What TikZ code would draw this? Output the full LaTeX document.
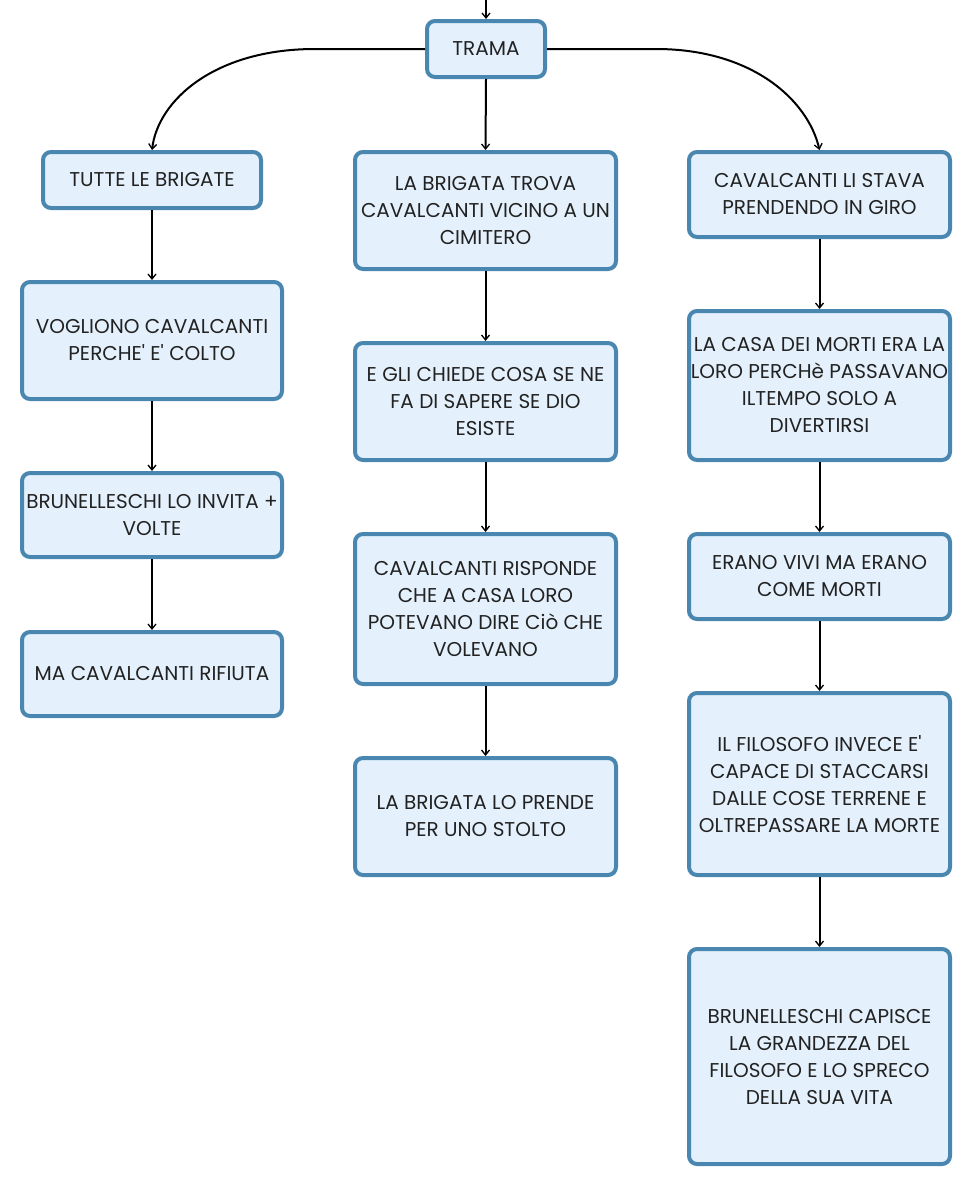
\documentclass[tikz,border=0pt]{standalone}
\usepackage{fontspec}
\setmainfont{Poppins}[Ligatures=TeXOff]
\usetikzlibrary{arrows.meta}
\definecolor{boxline}{HTML}{4A87B0}
\definecolor{boxfill}{HTML}{E4F1FC}
\definecolor{txt}{HTML}{222222}
\tikzset{
  card/.style={draw=boxline, fill=boxfill, line width=4pt, rounded corners=8pt,
    inner sep=0pt, align=center, text=txt, font=\fontsize{20}{27}\selectfont},
  link/.style={draw=black, line width=2pt, -{Straight Barb[length=5pt,width=8pt,line width=1.3pt]}}
}
\newcommand{\bx}[6]{\node[card, minimum width=#4pt-4pt, minimum height=#5pt-4pt] (#1) at (#2pt,-#3pt) {#6};}
\begin{document}
\begin{tikzpicture}[x=1pt,y=1pt]
\useasboundingbox (0,0) rectangle (972,-1186);
\bx{trama}{486}{49}{122}{60}{TRAMA}
\bx{tutte}{152}{180}{222}{60}{TUTTE LE BRIGATE}
\bx{vogliono}{152}{340.5}{264}{121}{VOGLIONO CAVALCANTI\\PERCHE' E' COLTO}
\bx{brun}{152}{515}{264}{88}{BRUNELLESCHI LO INVITA +\\VOLTE}
\bx{ma}{152}{674}{264}{88}{MA CAVALCANTI RIFIUTA}
\bx{trova}{485.5}{210.5}{265}{121}{LA BRIGATA TROVA\\CAVALCANTI VICINO A UN\\CIMITERO}
\bx{chiede}{485.5}{401.5}{265}{121}{E GLI CHIEDE COSA SE NE\\FA DI SAPERE SE DIO\\ESISTE}
\bx{risponde}{485.5}{609}{265}{154}{CAVALCANTI RISPONDE\\CHE A CASA LORO\\POTEVANO DIRE Ciò CHE\\VOLEVANO}
\bx{prende}{485.5}{816.5}{265}{121}{LA BRIGATA LO PRENDE\\PER UNO STOLTO}
\bx{stava}{819.5}{194.5}{265}{89}{CAVALCANTI LI STAVA\\PRENDENDO IN GIRO}
\bx{casa}{819.5}{385.5}{265}{153}{LA CASA DEI MORTI ERA LA\\LORO PERCHè PASSAVANO\\ILTEMPO SOLO A\\DIVERTIRSI}
\bx{vivi}{819.5}{576.5}{265}{89}{ERANO VIVI MA ERANO\\COME MORTI}
\bx{filosofo}{819.5}{784}{265}{186}{IL FILOSOFO INVECE E'\\CAPACE DI STACCARSI\\DALLE COSE TERRENE E\\OLTREPASSARE LA MORTE}
\bx{capisce}{819.5}{1056.5}{265}{219}{BRUNELLESCHI CAPISCE\\LA GRANDEZZA DEL\\FILOSOFO E LO SPRECO\\DELLA SUA VITA}
\coordinate (top) at (486,0);
\coordinate (lbend) at (315,-49);
\coordinate (rbend) at (656,-49);
\draw[link] (top) -- (trama.north);
\draw[link] (trama.west) -- (lbend) .. controls (215,-49) and (158,-100) .. (tutte.north);
\draw[link] (trama.east) -- (rbend) .. controls (752,-49) and (808,-100) .. (stava.north);
\draw[link] (trama.south) -- (trova.north);
\draw[link] (tutte.south) -- (vogliono.north);
\draw[link] (vogliono.south) -- (brun.north);
\draw[link] (brun.south) -- (ma.north);
\draw[link] (trova.south) -- (chiede.north);
\draw[link] (chiede.south) -- (risponde.north);
\draw[link] (risponde.south) -- (prende.north);
\draw[link] (stava.south) -- (casa.north);
\draw[link] (casa.south) -- (vivi.north);
\draw[link] (vivi.south) -- (filosofo.north);
\draw[link] (filosofo.south) -- (capisce.north);
\end{tikzpicture}
\end{document}
